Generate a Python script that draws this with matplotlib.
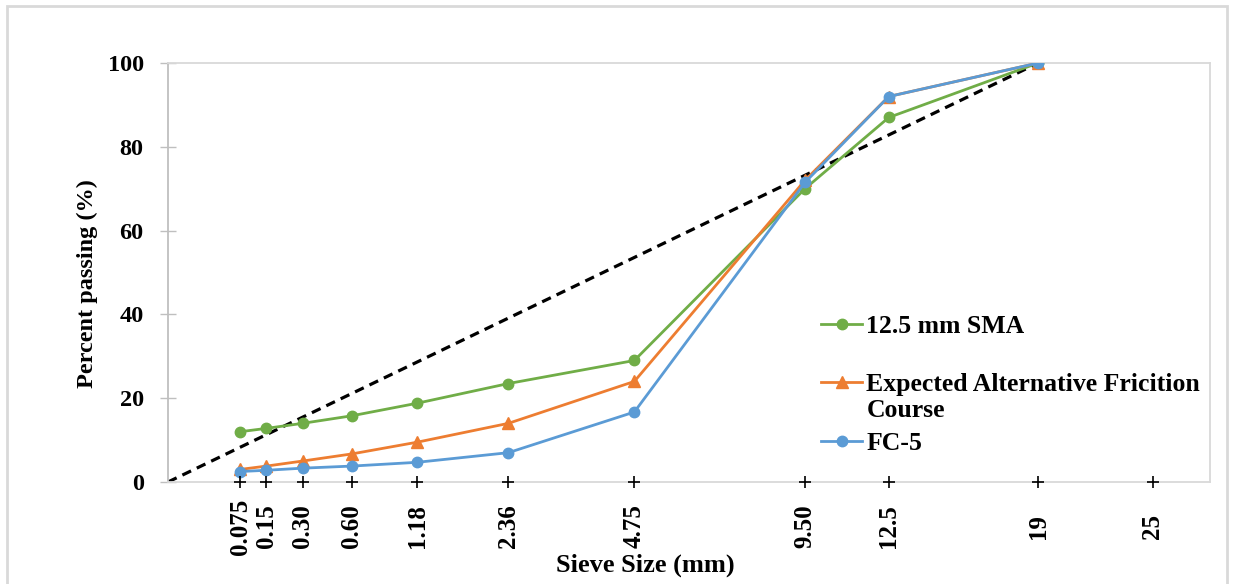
import numpy as np
import matplotlib.pyplot as plt
from matplotlib.patches import Rectangle

plt.rcParams['font.family'] = 'Liberation Serif'
plt.rcParams['font.weight'] = 'bold'
plt.rcParams['axes.labelweight'] = 'bold'

# Sieve sizes (mm) and percent passing for each gradation
sieve_labels = ['0.075', '0.15', '0.30', '0.60', '1.18', '2.36', '4.75', '9.50', '12.5', '19', '25']
sieve_sizes = [0.075, 0.15, 0.30, 0.60, 1.18, 2.36, 4.75, 9.50, 12.5, 19, 25]
series_sizes = [0.075, 0.15, 0.30, 0.60, 1.18, 2.36, 4.75, 9.50, 12.5, 19]
sma_pass = [12.0, 12.8, 14.0, 15.8, 18.8, 23.5, 29.0, 70.0, 87.0, 100.0]
afc_pass = [3.0, 3.8, 5.0, 6.7, 9.5, 14.0, 24.0, 72.0, 92.0, 100.0]
fc5_pass = [2.5, 2.8, 3.3, 3.8, 4.7, 7.0, 16.7, 71.5, 92.0, 100.0]
max_size = 19

# 0.45 power chart: x = size^0.45
p = 0.45
xs = np.array(series_sizes) ** p
xt = np.array(sieve_sizes) ** p

fig = plt.figure(figsize=(12.33, 5.84), dpi=100)
ax = fig.add_axes([168 / 1233, 102 / 584, 1042 / 1233, 419 / 584])

# maximum density line
ax.plot([0, max_size ** p], [0, 100], color='black', ls=(0, (3, 2)), lw=2.3, zorder=2)

ax.plot(xs, sma_pass, color='#70AD47', lw=2, marker='o', ms=7.5, label='12.5 mm SMA', zorder=3)
ax.plot(xs, afc_pass, color='#ED7D31', lw=2, marker='^', ms=8,
        label='Expected Alternative Fricition', zorder=4)
ax.plot(xs, fc5_pass, color='#5B9BD5', lw=2, marker='o', ms=7.5, label='FC-5', zorder=5)

# "+" tick marks along the x axis
ax.plot(xt, np.zeros_like(xt), '+', color='black', ms=9, mew=1.2, clip_on=False, zorder=6)

ax.set_xlim(0, 4.505)
ax.set_ylim(0, 100)
ax.set_yticks(range(0, 101, 20))
ax.set_xticks(xt)
ax.set_xticklabels(sieve_labels, rotation=90, va='center', fontsize=18)
ax.tick_params(axis='x', length=0, pad=32)
ax.tick_params(axis='y', direction='inout', length=11, width=1, color='#bfbfbf', labelsize=17.5, pad=12)

for side in ['top', 'right', 'bottom']:
    ax.spines[side].set_color('#d9d9d9')
ax.spines['left'].set_color('#bfbfbf')
for s in ax.spines.values():
    s.set_linewidth(1.3)

ax.set_xlabel('Sieve Size (mm)', fontsize=19)
ax.set_ylabel('Percent passing (%)', fontsize=17.5)
ax.xaxis.set_label_coords(0.458, -0.17)
ax.yaxis.set_label_coords(-0.067, 0.473)

leg = ax.legend(loc='center left', bbox_to_anchor=(0.627, 0.232), frameon=False, fontsize=18.5,
                handlelength=1.6, handletextpad=0.15, labelspacing=1.38,
                borderpad=0, borderaxespad=0)

# second line of the orange label sits under the first line
fig.canvas.draw()
bb = leg.get_texts()[1].get_window_extent()
ax.annotate('Course', xy=(bb.x0, bb.y0), xycoords='figure pixels',
            xytext=(0, -2), textcoords='offset points', ha='left', va='top', fontsize=18.5)

# outer chart border
fig.patches.append(Rectangle((7 / 1233, -0.01), 1220 / 1233, 1 - 6 / 584 + 0.01,
                             transform=fig.transFigure, fill=False, ec='#d9d9d9', lw=2))

fig.savefig('out.png', dpi=100)
